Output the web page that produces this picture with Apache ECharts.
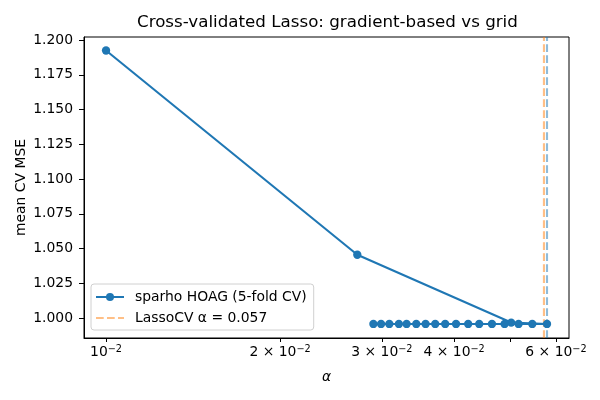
<!DOCTYPE html>
<html>
<head>
<meta charset="utf-8">
<script src="https://cdn.jsdelivr.net/npm/echarts@6/dist/echarts.min.js"></script>
<style>
  html, body { margin: 0; padding: 0; background: #fff; }
  #chart { width: 600px; height: 400px; }
</style>
</head>
<body>
<div id="chart"></div>
<script>
// HOAG path (alpha, mean CV MSE)
var hoagAlpha = [0.01, 0.0272, 0.0502, 0.0579, 0.0546, 0.0517, 0.0489, 0.0465, 0.0442, 0.0423,
  0.0403, 0.0386, 0.0371, 0.0357, 0.0344, 0.0331, 0.0321, 0.0309, 0.0299, 0.0290]
var hoagMse = [1.1925, 1.0455, 0.9967, 0.9957, 0.9957, 0.9957, 0.9957, 0.9957, 0.9957, 0.9957,
  0.9957, 0.9957, 0.9957, 0.9957, 0.9957, 0.9957, 0.9957, 0.9957, 0.9957, 0.9957]
var hoagBest = 0.0579
var lassoCvAlpha = 0.0572

// axis ranges, tick positions and labels
var xRange = [0.00916, 0.0632]
var yRange = [0.9856, 1.2022]
var xTickValues = [0.01, 0.02, 0.03, 0.04, 0.05, 0.06]
var xLabelValues = [0.01, 0.02, 0.03, 0.04, 0.06]
var xLabelMantissa = ['', '2 × ', '3 × ', '4 × ', '6 × ']
var yTickValues = [1.000, 1.025, 1.050, 1.075, 1.100, 1.125, 1.150, 1.175, 1.200]

var blue = '#1f77b4'
var font = 'DejaVu Sans'
var dash = [7.7, 3.3]

// vertical line from bottom to top of the plot
function vline(x) {
  return [[x, yRange[0]], [x, yRange[1]]]
}

var chart = echarts.init(document.getElementById('chart'))
chart.setOption({
  backgroundColor: '#fff',
  animation: false,
  textStyle: { fontFamily: font },
  title: {
    text: 'Cross-validated Lasso: gradient-based vs grid',
    left: 132,
    top: 9,
    textStyle: { fontFamily: font, fontSize: 16.7, fontWeight: 'normal', color: '#000' }
  },
  legend: {
    orient: 'vertical',
    left: 91,
    top: 284,
    padding: [6, 7, 5, 4],
    itemGap: 7,
    itemWidth: 28,
    itemHeight: 10,
    backgroundColor: '#fff',
    borderColor: '#d0d0d0',
    borderWidth: 1,
    borderRadius: 3,
    textStyle: { fontFamily: font, fontSize: 13.9, color: '#000', padding: [0, 0, 0, 6] },
    data: ['sparho HOAG (5-fold CV)', 'LassoCV α = 0.057']
  },
  grid: {
    left: 84,
    right: 31,
    top: 37,
    bottom: 62,
    show: true,
    borderColor: '#000',
    borderWidth: 1,
    backgroundColor: '#fff',
    outerBoundsMode: 'none'
  },
  xAxis: {
    type: 'log',
    logBase: 10,
    min: xRange[0],
    max: xRange[1],
    name: 'α',
    nameLocation: 'middle',
    nameGap: 32,
    nameMoveOverlap: false,
    nameTextStyle: { fontFamily: font, fontSize: 13.9, fontStyle: 'italic', color: '#000' },
    axisLine: { show: true, lineStyle: { color: '#000', width: 1 } },
    axisTick: { show: true, length: 4, customValues: xTickValues, lineStyle: { color: '#000' } },
    axisLabel: {
      show: true,
      margin: 6,
      color: '#000',
      fontSize: 13.9,
      fontFamily: font,
      customValues: xLabelValues,
      formatter: function (v) {
        for (var i = 0; i < xLabelValues.length; i++) {
          if (Math.abs(xLabelValues[i] - v) < 1e-9) {
            return '{b|' + xLabelMantissa[i] + '10}{s|−2}'
          }
        }
        return ''
      },
      rich: {
        b: { fontFamily: font, fontSize: 13.9, color: '#000' },
        s: { fontFamily: font, fontSize: 9.7, color: '#000', padding: [0, 0, 7, 0] }
      }
    },
    splitLine: { show: false },
    minorTick: { show: false }
  },
  yAxis: {
    type: 'value',
    min: yRange[0],
    max: yRange[1],
    name: 'mean CV MSE',
    nameLocation: 'middle',
    nameGap: 56,
    nameMoveOverlap: false,
    nameTextStyle: { fontFamily: font, fontSize: 13.9, color: '#000' },
    axisLine: { show: true, lineStyle: { color: '#000', width: 1 } },
    axisTick: { show: true, length: 5, customValues: yTickValues, lineStyle: { color: '#000' } },
    axisLabel: {
      show: true,
      margin: 11,
      color: '#000',
      fontSize: 13.9,
      fontFamily: font,
      customValues: yTickValues,
      formatter: function (v) { return v.toFixed(3) }
    },
    splitLine: { show: false }
  },
  series: [{
    name: 'HOAG best',
    type: 'line',
    data: vline(hoagBest),
    symbol: 'none',
    silent: true,
    lineStyle: { color: 'rgba(31,119,180,0.5)', type: dash, width: 2.1 },
    z: 1
  }, {
    name: 'LassoCV α = 0.057',
    type: 'line',
    data: vline(lassoCvAlpha),
    color: 'rgba(255,127,14,0.5)',
    symbol: 'circle',
    showSymbol: false,
    silent: true,
    // transparent symbol so the legend shows only the dashed line
    itemStyle: { color: 'rgba(0,0,0,0)', borderWidth: 0 },
    lineStyle: { color: 'rgba(255,127,14,0.5)', type: dash, width: 2.1 },
    z: 1
  }, {
    name: 'sparho HOAG (5-fold CV)',
    type: 'line',
    data: hoagAlpha.map(function (a, i) { return [a, hoagMse[i]] }),
    color: blue,
    symbol: 'circle',
    symbolSize: 8.3,
    showSymbol: true,
    lineStyle: { color: blue, width: 2.1 },
    itemStyle: { color: blue },
    z: 3
  }]
})
</script>
</body>
</html>
